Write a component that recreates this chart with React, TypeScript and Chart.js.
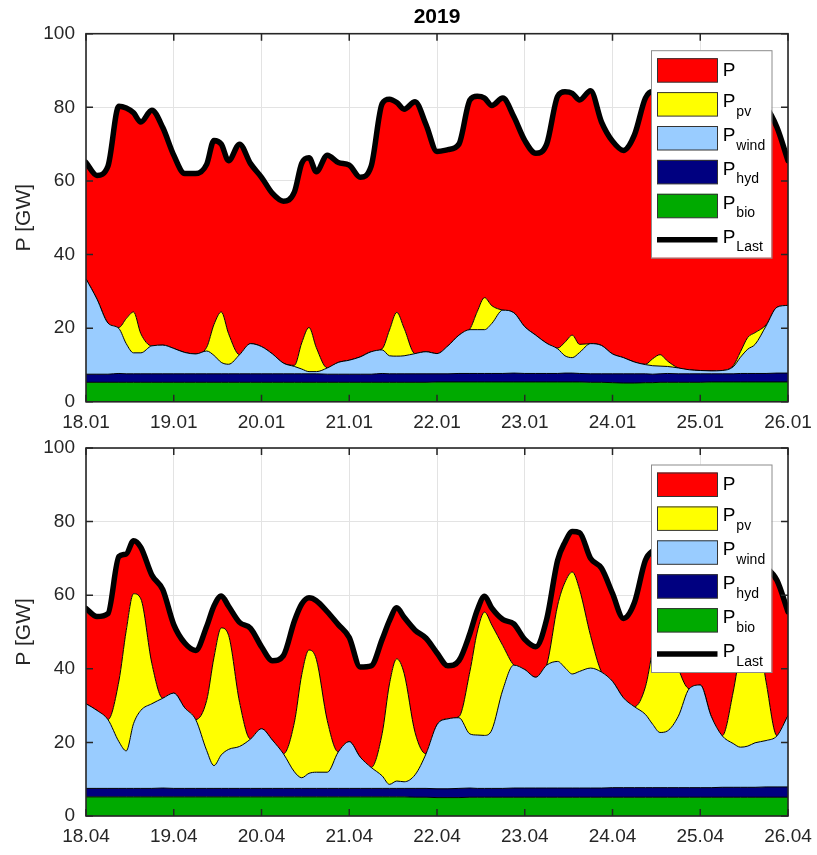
import React, { useEffect, useRef } from 'react';
import { Chart, registerables } from 'chart.js';

Chart.register(...registerables);

// time axis: hours since the first day 00:00 (denser around midday)
const hours = [
  0, 3, 6, 9, 11, 13, 15, 18, 21,
  24, 27, 30, 33, 35, 37, 39, 42, 45,
  48, 51, 54, 57, 59, 61, 63, 66, 69,
  72, 75, 78, 81, 83, 85, 87, 90, 93,
  96, 99, 102, 105, 107, 109, 111, 114, 117,
  120, 123, 126, 129, 131, 133, 135, 138, 141,
  144, 147, 150, 153, 155, 157, 159, 162, 165,
  168, 171, 174, 177, 179, 181, 183, 186, 189,
  192,
];

const janDays = ['18.01', '19.01', '20.01', '21.01', '22.01', '23.01', '24.01', '25.01', '26.01'];
const aprDays = ['18.04', '19.04', '20.04', '21.04', '22.04', '23.04', '24.04', '25.04', '26.04'];

// ---------- January (GW) ----------
const loadJan = [
  65, 61.5, 64, 80.3, 79.8, 78.5, 76, 79.2, 74.5,
  67, 62, 62, 64.5, 71, 70, 65.5, 70, 64.7,
  61, 56.6, 54.5, 57, 64.8, 66.3, 62.5, 67, 65,
  64.3, 61, 64, 81, 82.2, 81.3, 79.5, 81.5, 75.3,
  68, 68.5, 70, 82, 83, 82.5, 80.5, 82.5, 77.5,
  71, 67.5, 70, 83, 84.2, 83.8, 82, 84.5, 76,
  70.8, 68.3, 72.5, 82.5, 84.3, 84, 82, 80, 76,
  71, 68, 70, 79, 81, 83, 82, 80, 74.5,
  65.5,
];
const pvJan = [
  0, 0, 0, 0.3, 6.8, 11.1, 5.2, 0, 0,
  0, 0, 0, 1, 8.4, 13.7, 8.3, 0, 0,
  0, 0, 0, 0.3, 7.1, 12, 6.5, 0, 0,
  0, 0, 0, 0.3, 7, 11.9, 7.5, 0, 0,
  0, 0, 0, 0.2, 4.9, 8.7, 4.8, 0, 0,
  0, 0, 0, 0.2, 3.7, 6.1, 2.2, 0, 0,
  0, 0, 0, 0.1, 1.9, 3.1, 1.5, 0, 0,
  0, 0, 0, 0.3, 1.5, 3.2, 3.2, 0.3, 0,
  0,
];
const windJan = [
  25.9, 20.4, 13.9, 12.2, 8.2, 5.7, 5.7, 7.6, 7.8,
  6.9, 5.8, 5.4, 6.2, 5.0, 3.1, 2.6, 5.2, 8.2,
  7.4, 5.4, 2.9, 2.0, 1.3, 0.6, 0.6, 1.7, 3.2,
  3.8, 4.7, 6.1, 6.4, 4.9, 4.8, 4.9, 5.5, 6.0,
  5.5, 7.6, 10.4, 11.9, 11.9, 11.9, 13.6, 17.2, 16.4,
  12.7, 10.4, 8.2, 6.7, 4.7, 4.2, 5.7, 8.2, 7.7,
  5.4, 4.4, 3.2, 2.5, 2.3, 2.1, 1.9, 1.6, 1.1,
  0.9, 0.8, 0.9, 1.9, 4.4, 6.6, 7.9, 12.9, 17.9,
  18.4,
];
const hydJan = [
  2.2, 2.2, 2.2, 2.4, 2.3, 2.3, 2.3, 2.3, 2.3,
  2.3, 2.3, 2.3, 2.3, 2.3, 2.3, 2.3, 2.3, 2.3,
  2.3, 2.3, 2.3, 2.3, 2.3, 2.3, 2.3, 2.2, 2.2,
  2.2, 2.2, 2.2, 2.4, 2.3, 2.3, 2.3, 2.3, 2.3,
  2.2, 2.2, 2.3, 2.3, 2.3, 2.3, 2.3, 2.3, 2.4,
  2.3, 2.3, 2.3, 2.3, 2.4, 2.4, 2.3, 2.3, 2.3,
  2.4, 2.5, 2.5, 2.4, 2.3, 2.3, 2.4, 2.3, 2.3,
  2.3, 2.2, 2.2, 2.2, 2.3, 2.3, 2.3, 2.3, 2.4,
  2.4,
];
const bioJan = [
  5.3, 5.3, 5.3, 5.3, 5.3, 5.3, 5.3, 5.3, 5.3,
  5.3, 5.3, 5.3, 5.3, 5.3, 5.3, 5.3, 5.3, 5.3,
  5.3, 5.3, 5.3, 5.3, 5.3, 5.3, 5.3, 5.3, 5.3,
  5.3, 5.3, 5.3, 5.3, 5.3, 5.3, 5.3, 5.3, 5.3,
  5.4, 5.4, 5.4, 5.4, 5.4, 5.4, 5.4, 5.4, 5.4,
  5.4, 5.4, 5.4, 5.4, 5.4, 5.4, 5.4, 5.3, 5.3,
  5.2, 5.1, 5.1, 5.2, 5.2, 5.3, 5.3, 5.3, 5.3,
  5.3, 5.4, 5.4, 5.4, 5.4, 5.4, 5.4, 5.4, 5.4,
  5.4,
];

// ---------- April (GW) ----------
const loadApr = [
  56.4, 54.2, 55, 70.5, 71.2, 74.8, 73, 65.5, 61.5,
  52, 47, 45, 51.5, 57.1, 59.8, 57, 52.6, 51,
  46, 42.2, 43.6, 53, 57.6, 59.3, 58.5, 55.5, 52,
  48.5, 40.5, 40.8, 48, 53.1, 56.6, 54, 50.5, 48.3,
  44.3, 40.8, 42.2, 49.6, 55.9, 59.7, 56.5, 53.4, 52.2,
  48, 46, 53.5, 69.5, 74.4, 77.3, 77, 70, 67.3,
  60.5, 53.7, 58, 69.5, 72, 72.5, 73, 72, 69,
  63, 58, 57, 60, 63, 67, 69, 67.5, 64,
  55.5,
];
const pvApr = [
  0, 0, 0, 16.5, 32.7, 35.3, 30.3, 11, 0,
  0, 0, 0, 13.6, 29.4, 34.5, 31, 12, 0,
  0, 0, 0, 13.5, 28, 33.5, 30.7, 14, 0,
  0, 0, 0, 11.5, 27.3, 33.2, 29.5, 11.5, 0,
  0, 0, 0.3, 17, 28, 33.5, 28.5, 12, 0,
  0, 0, 0, 15.3, 23.2, 27.7, 22.2, 8.8, 0,
  0, 0, 0, 7.5, 20, 29.4, 27, 13, 0,
  0, 0, 0, 14, 26.5, 35, 34, 16, 0,
  0,
];
const windApr = [
  23.0, 21.2, 18.7, 12.7, 10.2, 17.6, 21.2, 23.0, 24.4,
  25.9, 21.9, 18.7, 10.3, 6.2, 9.1, 10.6, 11.4, 13.4,
  16.2, 13.1, 9.4, 4.5, 2.9, 4.1, 4.4, 4.4, 9.9,
  12.7, 8.5, 5.7, 3.4, 1.1, 2.0, 1.8, 3.7, 9.4,
  17.4, 19.0, 19.2, 14.7, 14.5, 14.4, 15.9, 26.8, 33.4,
  32.2, 30.1, 33.4, 34.4, 32.7, 31.0, 31.7, 32.6, 31.5,
  28.9, 24.4, 22.0, 19.9, 17.2, 15.0, 15.4, 19.4, 26.9,
  27.9, 19.4, 14.0, 11.9, 10.9, 11.2, 12.1, 12.6, 13.9,
  19.4,
];
const hydApr = [
  2.3, 2.3, 2.3, 2.3, 2.3, 2.3, 2.3, 2.3, 2.4,
  2.3, 2.3, 2.3, 2.3, 2.3, 2.3, 2.3, 2.3, 2.3,
  2.3, 2.3, 2.3, 2.3, 2.3, 2.3, 2.3, 2.3, 2.3,
  2.3, 2.3, 2.3, 2.3, 2.3, 2.3, 2.3, 2.4, 2.4,
  2.4, 2.4, 2.5, 2.5, 2.4, 2.4, 2.4, 2.4, 2.5,
  2.5, 2.5, 2.5, 2.5, 2.5, 2.5, 2.5, 2.5, 2.5,
  2.6, 2.6, 2.6, 2.6, 2.6, 2.6, 2.6, 2.6, 2.6,
  2.6, 2.6, 2.7, 2.7, 2.7, 2.7, 2.7, 2.8, 2.8,
  2.8,
];
const bioApr = [
  5.2, 5.2, 5.2, 5.2, 5.2, 5.2, 5.2, 5.2, 5.2,
  5.2, 5.2, 5.2, 5.2, 5.2, 5.2, 5.2, 5.2, 5.2,
  5.2, 5.2, 5.2, 5.2, 5.2, 5.2, 5.2, 5.2, 5.2,
  5.2, 5.2, 5.2, 5.2, 5.2, 5.2, 5.2, 5.1, 5.1,
  5.0, 5.0, 5.0, 5.1, 5.1, 5.1, 5.1, 5.1, 5.1,
  5.1, 5.1, 5.1, 5.1, 5.1, 5.1, 5.1, 5.1, 5.1,
  5.1, 5.1, 5.1, 5.1, 5.1, 5.1, 5.1, 5.1, 5.1,
  5.1, 5.1, 5.1, 5.1, 5.1, 5.1, 5.1, 5.1, 5.1,
  5.1,
];

const legendSubs = ['', 'pv', 'wind', 'hyd', 'bio', 'Last'];
const legendOrder = [4, 3, 2, 1, 0, 5];

const FONT = "'Liberation Sans', Arial, Helvetica, sans-serif";
const INK = '#262626';
const GRID = '#e3e3e3';
const COL = {
  p: '#ff0000',
  pv: '#ffff00',
  wind: '#99ccff',
  hyd: '#000080',
  bio: '#00aa00',
  load: '#000000',
};

const matlabPlugin = {
  id: 'matlabFrame',
  afterDatasetsDraw(chart: any) {
    const { ctx, chartArea: a, scales } = chart;
    const x = scales.x;
    const y = scales.y;
    const tl = 7;
    ctx.save();
    ctx.strokeStyle = INK;
    ctx.lineWidth = 1.5;
    ctx.beginPath();
    x.ticks.forEach((t: any) => {
      const px = x.getPixelForValue(t.value);
      ctx.moveTo(px, a.bottom);
      ctx.lineTo(px, a.bottom - tl);
      ctx.moveTo(px, a.top);
      ctx.lineTo(px, a.top + tl);
    });
    y.ticks.forEach((t: any) => {
      const py = y.getPixelForValue(t.value);
      ctx.moveTo(a.left, py);
      ctx.lineTo(a.left + tl, py);
      ctx.moveTo(a.right, py);
      ctx.lineTo(a.right - tl, py);
    });
    ctx.stroke();
    ctx.lineWidth = 1.6;
    ctx.strokeRect(a.left, a.top, a.right - a.left, a.bottom - a.top);
    ctx.restore();
  },
  afterDraw(chart: any, _args: any, opts: any) {
    const { ctx, chartArea: a } = chart;
    const ds = chart.data.datasets;
    ctx.save();
    if (opts.title) {
      ctx.fillStyle = '#000';
      ctx.font = `bold 21px ${FONT}`;
      ctx.textAlign = 'center';
      ctx.textBaseline = 'alphabetic';
      ctx.fillText(opts.title, (a.left + a.right) / 2, a.top - 10.4);
    }
    const bx = a.right - 137;
    const by = a.top + 16.5;
    const bw = 120.5;
    const bh = 207.5;
    ctx.fillStyle = '#ffffff';
    ctx.fillRect(bx, by, bw, bh);
    ctx.strokeStyle = '#8c8c8c';
    ctx.lineWidth = 1;
    ctx.strokeRect(bx + 0.5, by + 0.5, bw, bh);
    legendOrder.forEach((di, k) => {
      const d = ds[di];
      const cy = by + 20 + k * 33.9;
      if (k < 5) {
        ctx.fillStyle = d.backgroundColor;
        ctx.fillRect(bx + 6, cy - 12, 60.5, 24);
        ctx.strokeStyle = '#333333';
        ctx.lineWidth = 1;
        ctx.strokeRect(bx + 6.5, cy - 11.5, 60, 23.5);
      } else {
        ctx.strokeStyle = '#000';
        ctx.lineWidth = 5.5;
        ctx.beginPath();
        ctx.moveTo(bx + 6, cy);
        ctx.lineTo(bx + 66.5, cy);
        ctx.stroke();
      }
      const sub = legendSubs[k];
      const tx = bx + 71.7;
      ctx.fillStyle = '#000';
      ctx.textAlign = 'left';
      ctx.textBaseline = 'alphabetic';
      ctx.font = `19px ${FONT}`;
      const mainBase = sub ? cy + 3 : cy + 5.5;
      ctx.fillText('P', tx, mainBase);
      if (sub) {
        const w = ctx.measureText('P').width;
        ctx.font = `14px ${FONT}`;
        ctx.fillText(sub, tx + w + 1, mainBase + 8.5);
      }
    });
    ctx.restore();
  },
};

type PanelData = {
  load: number[];
  pv: number[];
  wind: number[];
  hyd: number[];
  bio: number[];
  days: string[];
  title: string;
  padTop: number;
  axisH: number;
};

function buildConfig(p: PanelData): any {
  const pts = (arr: number[]) => hours.map((h, i) => ({ x: h, y: arr[i] }));
  const rest = hours.map((_, i) => p.load[i] - p.bio[i] - p.hyd[i] - p.wind[i] - p.pv[i]);
  const area = (label: string, arr: number[], color: string, fill: any) => ({
    label,
    data: pts(arr),
    backgroundColor: color,
    borderColor: '#000000',
    borderWidth: 1,
    fill,
    pointRadius: 0,
    cubicInterpolationMode: 'monotone',
    stack: 'gen',
  });
  return {
    type: 'line',
    data: {
      datasets: [
        area('P_bio', p.bio, COL.bio, 'origin'),
        area('P_hyd', p.hyd, COL.hyd, '-1'),
        area('P_wind', p.wind, COL.wind, '-1'),
        area('P_pv', p.pv, COL.pv, '-1'),
        area('P', rest, COL.p, '-1'),
        {
          label: 'P_Last',
          data: pts(p.load),
          borderColor: COL.load,
          backgroundColor: COL.load,
          borderWidth: 5.5,
          borderJoinStyle: 'round',
          borderCapStyle: 'round',
          fill: false,
          pointRadius: 0,
          cubicInterpolationMode: 'monotone',
          stack: 'load',
          order: -1,
        },
      ],
    },
    options: {
      responsive: false,
      maintainAspectRatio: false,
      animation: false,
      events: [],
      layout: { padding: { top: p.padTop, right: 29, bottom: 0, left: 0 }, autoPadding: false },
      plugins: {
        legend: { display: false },
        tooltip: { enabled: false },
        title: { display: false },
        matlabFrame: { title: p.title },
      },
      scales: {
        x: {
          type: 'linear',
          min: 0,
          max: 192,
          afterFit: (s: any) => {
            s.height = p.axisH;
            s.paddingLeft = 0;
            s.paddingRight = 0;
          },
          ticks: {
            stepSize: 24,
            autoSkip: false,
            maxRotation: 0,
            padding: 9.3,
            color: INK,
            font: { family: FONT, size: 19 },
            callback: (v: number) => p.days[Math.round(v / 24)] ?? '',
          },
          grid: { color: GRID, drawTicks: false, lineWidth: 1 },
          border: { display: false },
        },
        y: {
          stacked: true,
          min: 0,
          max: 100,
          afterFit: (s: any) => {
            s.width = 86;
            s.paddingTop = 0;
            s.paddingBottom = 0;
          },
          ticks: {
            stepSize: 20,
            padding: 11,
            color: INK,
            font: { family: FONT, size: 19 },
          },
          grid: { color: GRID, drawTicks: false, lineWidth: 1 },
          border: { display: false },
          title: {
            display: true,
            text: 'P [GW]',
            color: INK,
            font: { family: FONT, size: 21 },
            padding: { top: 11.4, bottom: 0 },
          },
        },
      },
    },
    plugins: [matlabPlugin],
  };
}

function Panel({ data, height }: { data: PanelData; height: number }) {
  const ref = useRef<HTMLCanvasElement>(null);
  useEffect(() => {
    if (!ref.current) return;
    const chart = new Chart(ref.current, buildConfig(data));
    return () => chart.destroy();
  }, []);
  return (
    <canvas
      ref={ref}
      width={817}
      height={height}
      style={{ display: 'block', width: 817, height }}
    />
  );
}

export default function App() {
  const top: PanelData = {
    load: loadJan, pv: pvJan, wind: windJan, hyd: hydJan, bio: bioJan,
    days: janDays, title: '2019', padTop: 33.7, axisH: 26.2,
  };
  const bottom: PanelData = {
    load: loadApr, pv: pvApr, wind: windApr, hyd: hydApr, bio: bioApr,
    days: aprDays, title: '', padTop: 20, axisH: 39,
  };
  return (
    <div style={{ position: 'absolute', left: 0, top: 0, width: 817, height: 855, background: '#ffffff' }}>
      <Panel data={top} height={428} />
      <Panel data={bottom} height={427} />
    </div>
  );
}
